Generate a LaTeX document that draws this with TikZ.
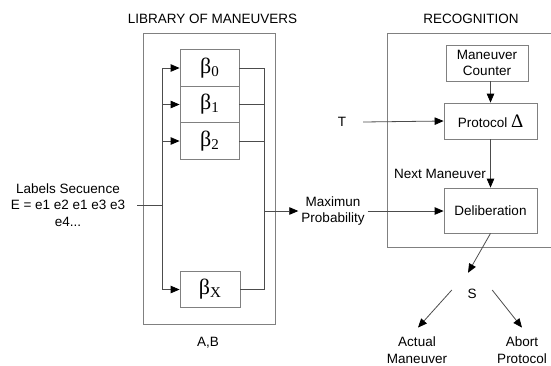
\documentclass[tikz,border=0pt]{standalone}
\usepackage{fontspec}
\setmainfont{Liberation Sans}
\newfontfamily\serifb{Liberation Serif}
\usetikzlibrary{arrows.meta}
\newcommand\mybeta[1]{{\serifb\fontsize{22}{22}\selectfont β\raisebox{-3pt}{\fontsize{15}{15}\selectfont #1}}}
\begin{document}
\begin{tikzpicture}[x=1pt,y=-1pt,
  txt/.style={font=\fontsize{13.5}{16.5}\selectfont, align=center, inner sep=0pt},
  box/.style={draw=black!50, line width=0.8pt, inner sep=0pt},
  bbox/.style={box, minimum width=59pt, minimum height=36.5pt},
  conn/.style={draw=black!70, line width=0.8pt},
  arr/.style={conn, -{Triangle[length=9pt,width=7.5pt,color=black]}}]
\useasboundingbox (0,0) rectangle (551,365);
% titles
\node[txt] (libt) at (212.5,19) {LIBRARY OF MANEUVERS};
\node[txt] (rect) at (471,19) {RECOGNITION};
% library
\node[box, minimum width=132pt, minimum height=291pt] (lib) at (209,178.5) {};
\node[bbox] (b0) at (209.5,68) {\mybeta{0}};
\node[bbox] (b1) at (209.5,104.5) {\mybeta{1}};
\node[bbox] (b2) at (209.5,141) {\mybeta{2}};
\node[bbox, minimum width=60pt] (bX) at (210,289.5) {\mybeta{X}};
\node[txt] (ab) at (208,343) {A,B};
\node[txt, inner xsep=12pt] (lab) at (68,205) {Labels Secuence\\E = e1 e2 e1 e3 e3\\e4...};
\coordinate (busL) at (162,205);
\coordinate (busR) at (264,211);
\draw[conn] (b0.west -| busL) -- (bX.west -| busL);
\draw[conn] (lab.east) -- (busL);
\foreach \b in {b0,b1,b2,bX}{
  \draw[arr] (\b.west -| busL) -- (\b.west);
  \draw[conn] (\b.east) -- (\b.east -| busR);
}
\draw[conn] (b0.east -| busR) -- (bX.east -| busR);
\node[txt, inner xsep=3pt] (maxp) at (333,211) {Maximun\\Probability};
\draw[arr] (busR) -- (maxp.west);
% recognition
\draw[draw=black!50, line width=0.8pt] (551,33) -- (387,33) -- (387,247.5) -- (551,247.5);
\node[box, minimum width=82pt, minimum height=36pt, txt, draw=black!50] (cnt) at (487,63) {Maneuver\\Counter};
\node[box, minimum width=93pt, minimum height=36pt, txt, draw=black!50] (proto) at (490.5,121) {Protocol {\serifb\fontsize{19}{19}\selectfont Δ}};
\node[box, minimum width=93pt, minimum height=45pt, txt, draw=black!50] (delib) at (490.5,210.5) {Deliberation};
\node[txt, minimum width=42pt] (t) at (342,122) {T};
\draw[arr] (cnt.south -| proto.north) -- (proto.north);
\draw[arr] (t.east) -- (proto.west);
\draw[arr] (proto.south) -- (delib.north);
\draw[arr] (maxp.east) -- (delib.west |- maxp.east);
\node[txt] (nm) at (440,174) {Next Maneuver};
\node[txt, minimum width=40pt, minimum height=42pt] (s) at (472,294) {S};
\draw[arr] (delib.south) -- ([xshift=-4pt]s.north);
\node[txt, inner ysep=9pt] (act) at (417,350) {Actual\\Maneuver};
\node[txt, inner ysep=9pt] (abt) at (522,350) {Abort\\Protocol};
\draw[arr] ([yshift=4pt]s.west) -- ([xshift=1pt]act.north);
\draw[arr] ([yshift=4pt]s.east) -- (abt.north);
\end{tikzpicture}
\end{document}
